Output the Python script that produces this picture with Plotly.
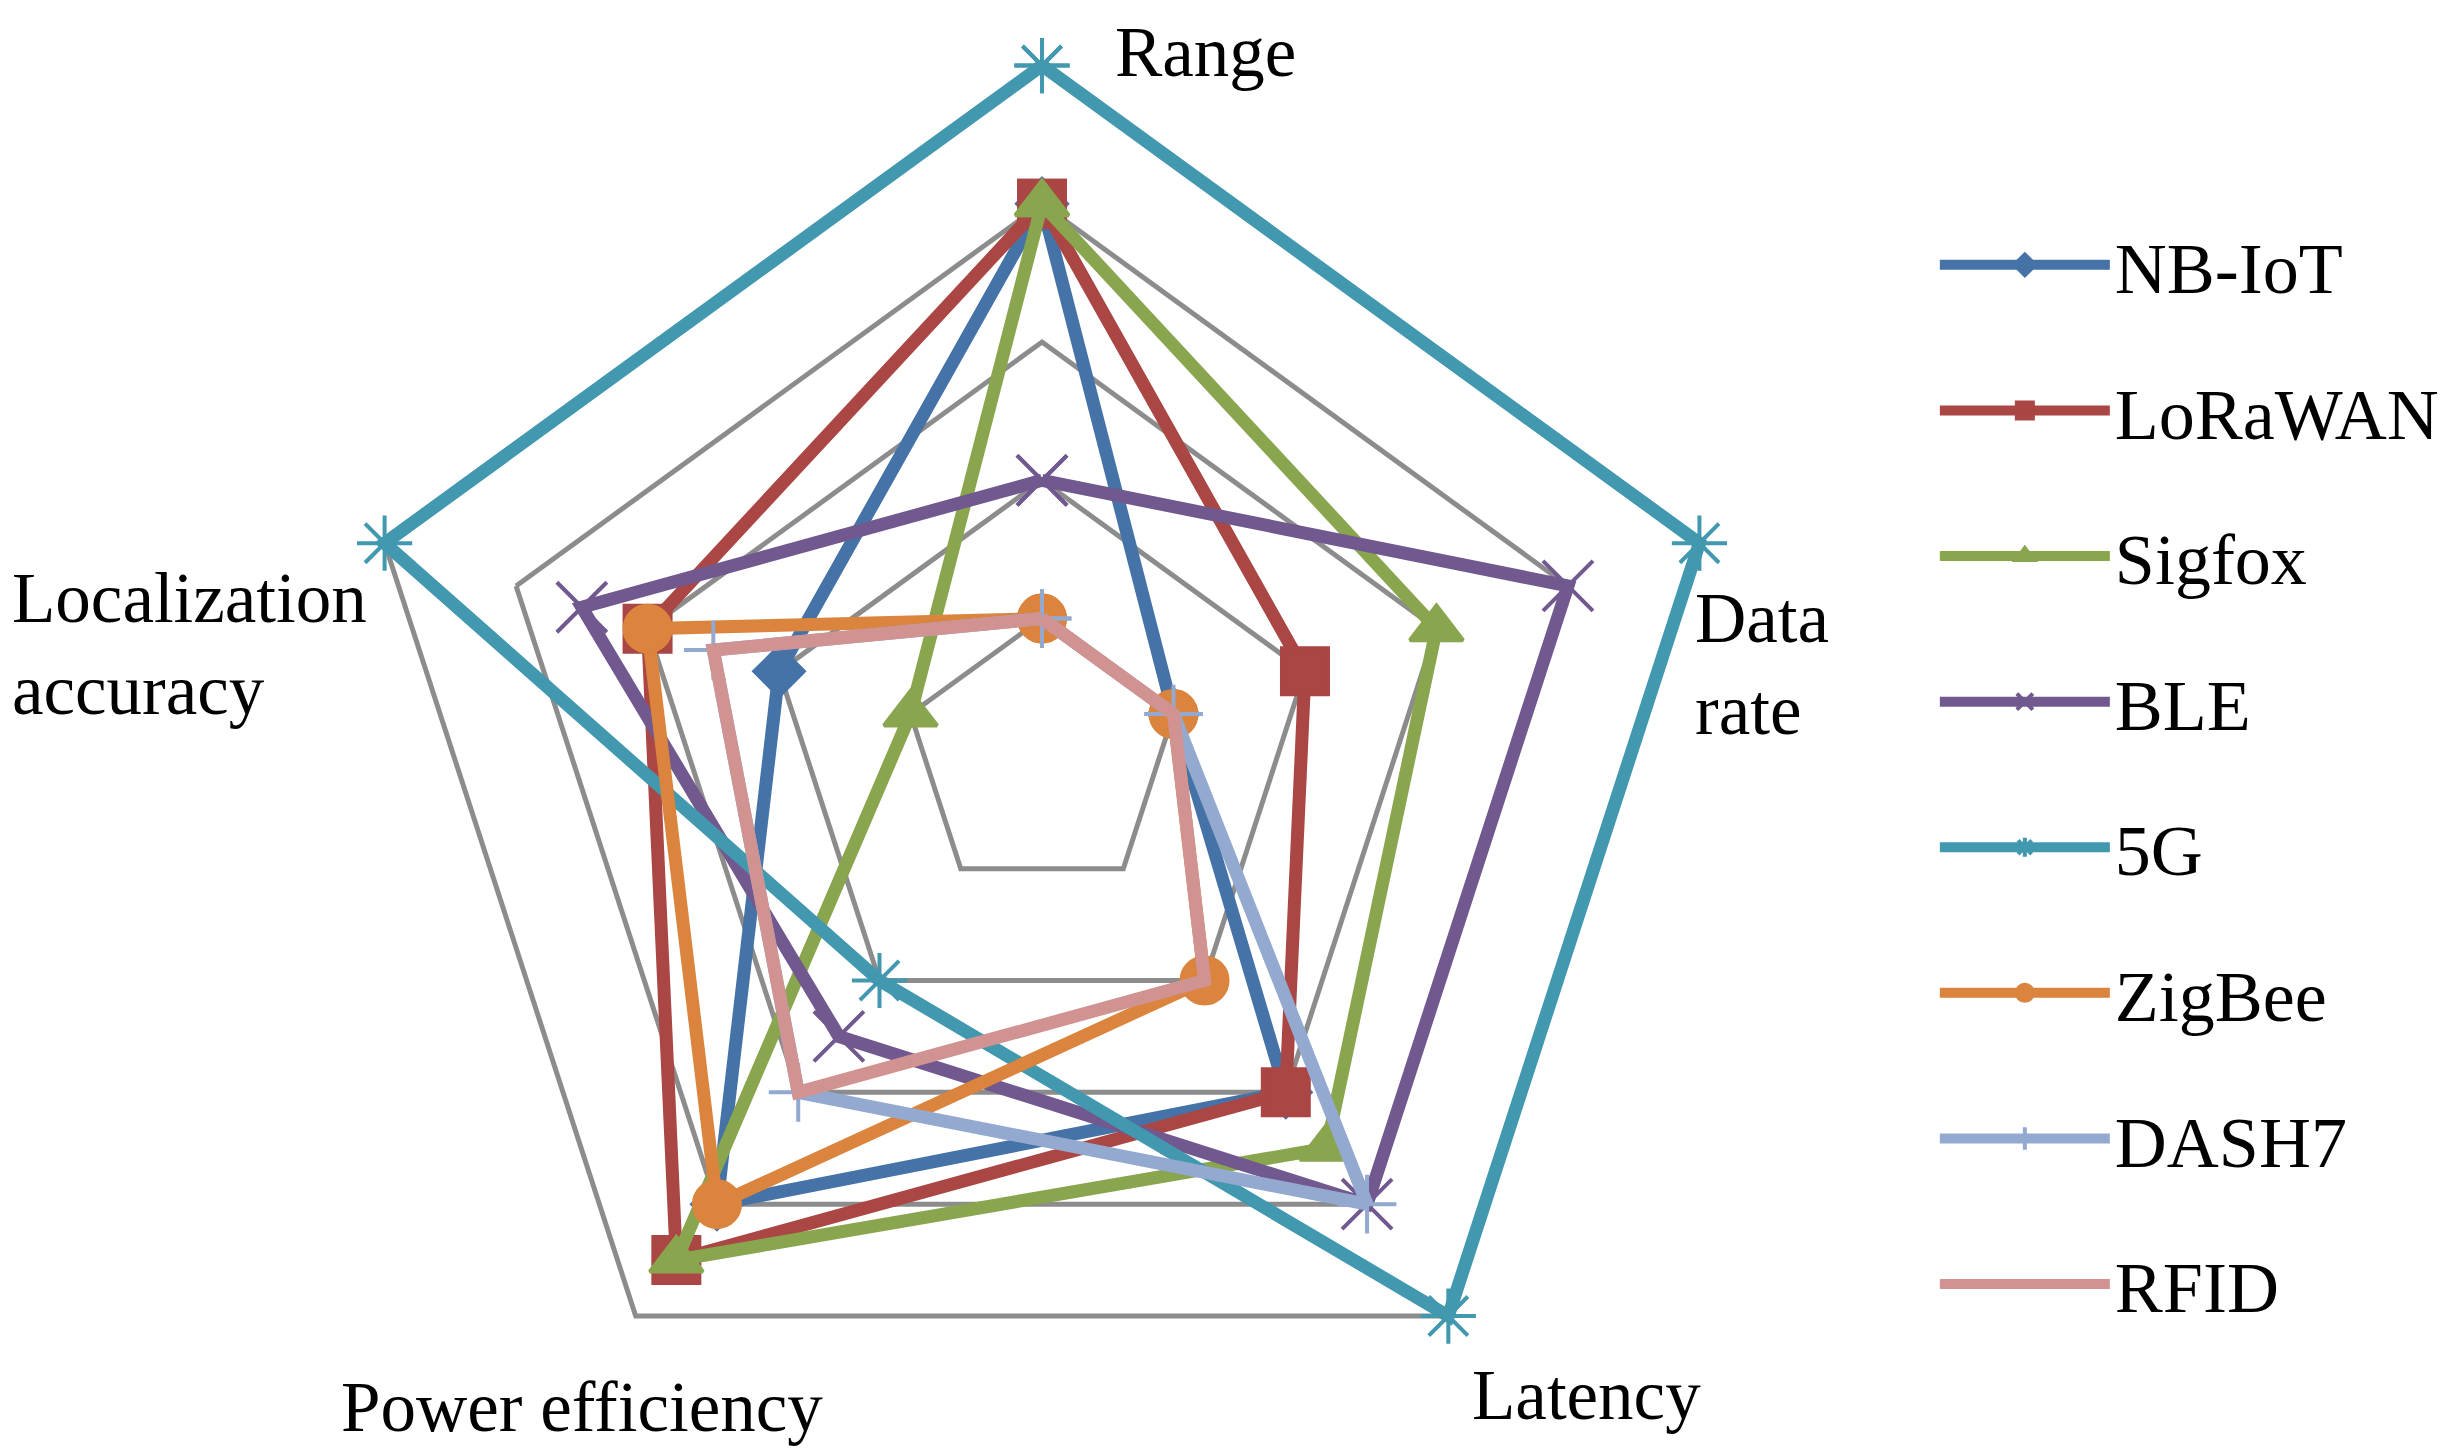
import plotly.graph_objects as go

# axes of the radar, clockwise from the top
categories = ["Range", "Data rate", "Latency", "Power efficiency", "Localization accuracy"]

# scores (0-5 scale)
nb_iot = [4, 1, 3, 4, 2]
lorawan = [4, 2, 3, 4.5, 3]
sigfox = [4, 3, 3.5, 4.5, 1]
ble = [2, 4, 4, 2.5, 3.5]
g5 = [5, 5, 5, 2, 5]
zigbee = [1, 1, 2, 4, 3]
dash7 = [1, 1, 4, 3, 2.5]
rfid = [1, 1, 2, 3, 2.5]

series = [
    ("NB-IoT", nb_iot, "#4573A7", "diamond", 38),
    ("LoRaWAN", lorawan, "#AA4643", "square", 46),
    ("Sigfox", sigfox, "#89A54E", "triangle-up", 46),
    ("BLE", ble, "#71588F", "x-thin", 50),
    ("5G", g5, "#4198AF", "asterisk", 46),
    ("ZigBee", zigbee, "#DB843D", "circle", 46),
    ("DASH7", dash7, "#93A9CF", "cross-thin", 42),
    ("RFID", rfid, "#D19392", "circle", 0),
]

fig = go.Figure()

for name, vals, color, symbol, size in series:
    # close the polygon
    r = vals + [vals[0]]
    theta = categories + [categories[0]]
    fig.add_trace(go.Scatterpolar(
        r=r,
        theta=theta,
        name=name,
        legendgroup=name,
        mode="lines+markers" if size > 0 else "lines",
        cliponaxis=False,
        line=dict(color=color, width=13),
        marker=dict(symbol=symbol, size=size, color=color,
                    line=dict(color=color, width=4)),
    ))

serif = "Times New Roman, Liberation Serif, serif"

fig.update_layout(
    width=2464,
    height=1454,
    paper_bgcolor="white",
    plot_bgcolor="white",
    margin=dict(l=0, r=0, t=0, b=0),
    font=dict(family=serif, size=72, color="black"),
    polar=dict(
        domain=dict(x=[0.1335, 0.7058], y=[0.0, 0.97]),
        bgcolor="white",
        gridshape="linear",
        radialaxis=dict(
            # a little headroom so the outer 5G line is not clipped
            range=[0, 5.1],
            tickvals=[1, 2, 3, 4, 5],
            showticklabels=False,
            ticks="",
            showline=False,
            gridcolor="#8C8C8C",
            gridwidth=4.5,
        ),
        angularaxis=dict(
            rotation=90,
            direction="clockwise",
            showticklabels=False,
            ticks="",
            showgrid=False,
            showline=False,
        ),
    ),
    legend=dict(
        x=0.782,
        y=0.860,
        xanchor="left",
        yanchor="top",
        font=dict(family=serif, size=72),
        tracegroupgap=49,
        itemwidth=170,
        bgcolor="rgba(0,0,0,0)",
    ),
)

# axis names placed like the original chart
labels = [
    ("Range", 0.4485, 0.970),
    ("Data<br>rate", 0.684, 0.549),
    ("Latency", 0.5935, 0.046),
    ("Power efficiency", 0.1345, 0.0375),
    ("Localization<br>accuracy", 0.001, 0.5625),
]
for text, x, y in labels:
    fig.add_annotation(
        text=text, x=x, y=y, xref="paper", yref="paper",
        xanchor="left", yanchor="middle", align="left",
        showarrow=False, font=dict(family=serif, size=71, color="black"),
    )

fig.write_html("out.html")
